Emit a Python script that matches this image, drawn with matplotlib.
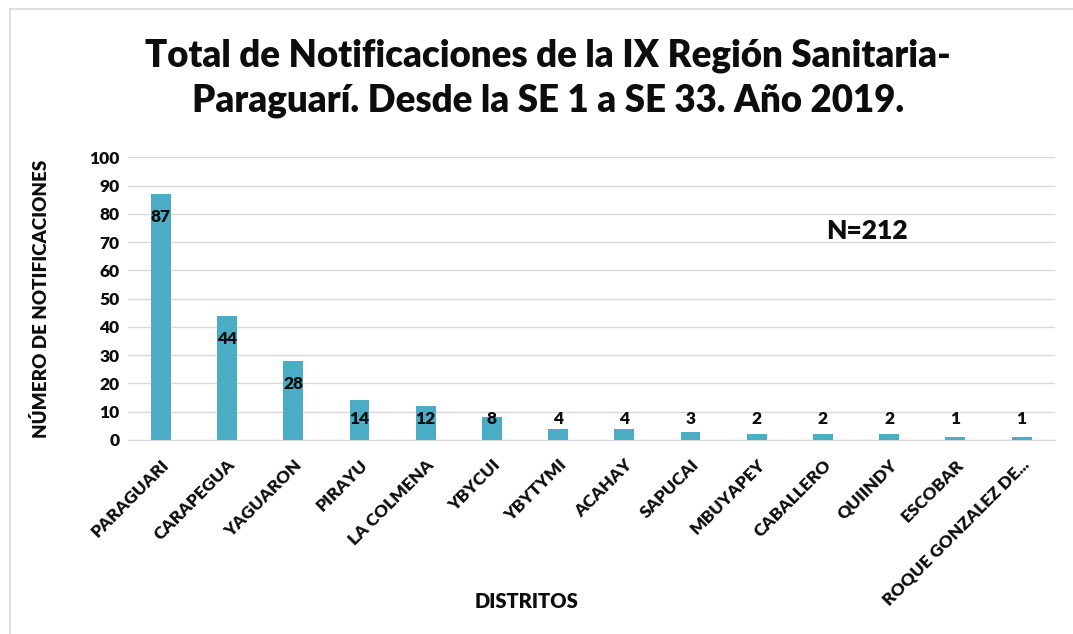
import matplotlib
matplotlib.use('Agg')
import matplotlib.pyplot as plt
from matplotlib.lines import Line2D

plt.rcParams['font.family'] = ['Lato', 'DejaVu Sans']

# data
distritos = ['PARAGUARI', 'CARAPEGUA', 'YAGUARON', 'PIRAYU', 'LA COLMENA',
             'YBYCUI', 'YBYTYMI', 'ACAHAY', 'SAPUCAI', 'MBUYAPEY',
             'CABALLERO', 'QUIINDY', 'ESCOBAR', 'ROQUE GONZALEZ DE...']
notificaciones = [87, 44, 28, 14, 12, 8, 4, 4, 3, 2, 2, 2, 1, 1]
y_ticks = [0, 10, 20, 30, 40, 50, 60, 70, 80, 90, 100]

titulo = 'Total de Notificaciones de la IX Región Sanitaria-\nParaguarí. Desde la SE 1 a SE 33. Año 2019.'
bar_color = '#4BACC6'
text_color = '#0d0d0d'
W = 'heavy'

fig = plt.figure(figsize=(10.73, 6.34), dpi=100)
ax = fig.add_axes([0.119, 0.306, 0.864, 0.446])

x = range(len(distritos))
ax.bar(x, notificaciones, width=0.3, color=bar_color, zorder=3)

# data labels (inside end, kept above base for short bars)
for xi, v in zip(x, notificaciones):
    ax.text(xi, max(v - 8.3, 7.3), str(v), ha='center', va='center',
            fontsize=12.5, fontweight=W, color=text_color, zorder=4)

ax.set_xlim(-0.5, len(distritos) - 0.5)
ax.set_ylim(0, 100)
ax.set_yticks(y_ticks)
ax.set_yticklabels([str(t) for t in y_ticks], fontsize=12.5, fontweight=W, color=text_color)
ax.set_xticks(list(x))
ax.set_xticklabels(distritos, rotation=45, ha='right', rotation_mode='anchor',
                   fontsize=12.5, fontweight=W, color=text_color)
ax.tick_params(axis='y', length=0, pad=6)
ax.tick_params(axis='x', length=0, pad=12)

ax.grid(axis='y', color='#d9d9d9', linewidth=1, zorder=0)
for s in ['top', 'right', 'left']:
    ax.spines[s].set_visible(False)
ax.spines['bottom'].set_color('#d9d9d9')

ax.set_ylabel('NÚMERO DE NOTIFICACIONES', fontsize=13.5, fontweight=W,
              color=text_color, labelpad=28)
fig.text(0.491, 0.052, 'DISTRITOS', ha='center', va='center', fontsize=14.5,
         fontweight=W, color=text_color)
ax.text(10.66, 73.9, 'N=212', ha='center', va='center', fontsize=19,
        fontweight=W, color=text_color)

fig.text(0.511, 0.877, titulo, ha='center', va='center', fontsize=26.4,
         fontweight=W, color=text_color, linespacing=1.38)

# chart frame
fig.add_artist(Line2D([0.0093, 0.0093], [0.0, 0.986], color='#d9d9d9', lw=1.2))
fig.add_artist(Line2D([0.0093, 1.0], [0.986, 0.986], color='#d9d9d9', lw=1.2))

fig.savefig('out.png', dpi=100)
